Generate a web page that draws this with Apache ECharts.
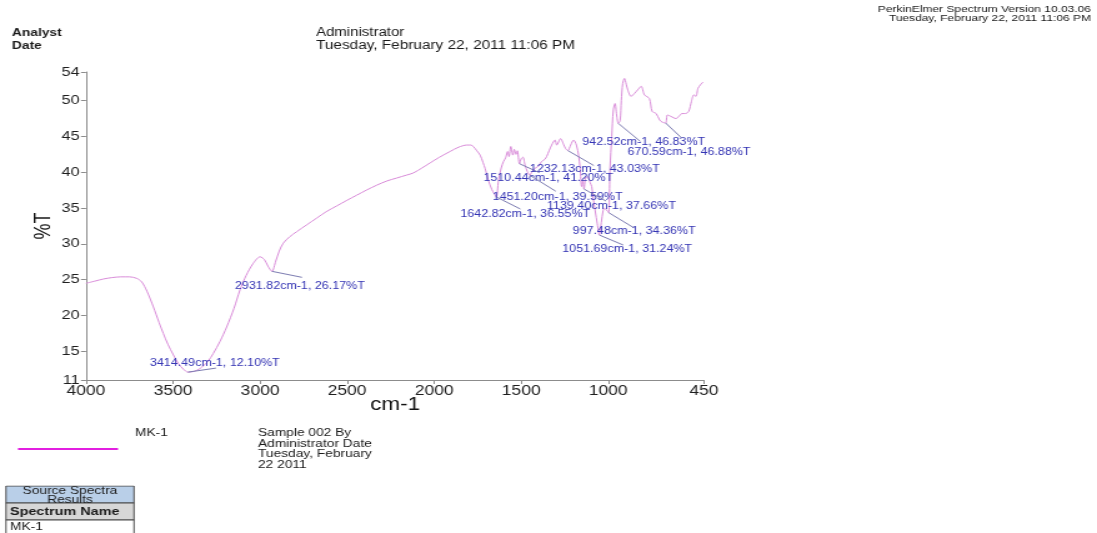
<!DOCTYPE html>
<html>
<head>
<meta charset="utf-8">
<script src="https://cdn.jsdelivr.net/npm/echarts@6/dist/echarts.min.js"></script>
<style>
html,body{margin:0;padding:0;background:#fff;overflow:hidden;}
#chart{width:878px;height:533px;transform:scaleX(1.249431);transform-origin:0 0;}
</style>
</head>
<body>
<div id="chart"></div>
<script>
// ---- data ----
const wavenumber = [
  4000, 3950, 3900, 3850, 3800, 3750, 3710, 3680, 3650, 3613,
  3580, 3556, 3530, 3498, 3470, 3440, 3414.49, 3380, 3345, 3300,
  3269, 3230, 3192, 3150, 3115, 3080, 3039, 3000, 2975, 2955,
  2931.82, 2910, 2890, 2867, 2830, 2790, 2730, 2675, 2620, 2560,
  2500, 2445, 2390, 2330, 2270, 2215, 2160, 2120, 2070, 2024,
  1970, 1909, 1860, 1813, 1790, 1775, 1755, 1736, 1720, 1707,
  1689, 1669, 1655, 1642.82, 1631, 1615, 1602, 1590, 1578, 1570,
  1560, 1548, 1540, 1530, 1522, 1510.44, 1500, 1490, 1478, 1465,
  1451.20, 1440, 1425, 1404, 1383, 1365, 1354, 1340, 1325, 1306,
  1296, 1274, 1255, 1245, 1232.13, 1216, 1199, 1183, 1170, 1162,
  1153, 1146, 1139.40, 1130, 1118, 1105, 1095, 1086, 1075, 1063,
  1051.69, 1040, 1030, 1022, 1013, 1005, 997.48, 990, 980, 971,
  961, 952, 942.52, 932, 925, 917, 907, 897, 888, 869,
  850, 831, 811, 792, 764, 748, 725, 705, 690, 670.59,
  660, 640, 611, 595, 576, 557, 538, 522, 509, 496,
  485, 471, 455
];
const transmittance = [
  24.5, 24.8, 25.1, 25.3, 25.4, 25.4, 25.2, 24.7, 23.4, 21.2,
  19.0, 17.5, 16.0, 14.5, 13.3, 12.5, 12.10, 12.2, 12.6, 13.6,
  14.7, 16.4, 18.4, 21.0, 23.6, 25.6, 27.3, 28.2, 27.8, 26.9,
  26.17, 27.6, 29.0, 30.1, 31.0, 31.7, 32.7, 33.6, 34.5, 35.3,
  36.1, 36.8, 37.5, 38.2, 38.8, 39.2, 39.6, 39.9, 40.6, 41.3,
  42.1, 42.9, 43.5, 43.8, 43.8, 43.6, 43.0, 42.4, 41.4, 40.5,
  38.9, 37.6, 37.0, 36.55, 38.8, 40.6, 41.5, 42.0, 42.9, 42.2,
  43.6, 42.4, 43.2, 42.5, 43.0, 41.20, 41.9, 42.1, 41.0, 40.1,
  39.59, 40.0, 40.5, 40.8, 41.5, 41.8, 42.2, 43.0, 43.8, 44.5,
  43.8, 44.7, 43.8, 43.3, 43.03, 43.8, 44.5, 43.8, 42.3, 40.6,
  38.0, 38.9, 37.66, 39.2, 39.4, 38.6, 38.0, 36.3, 34.6, 32.8,
  31.24, 33.0, 34.6, 35.0, 34.8, 34.6, 34.36, 40.5, 45.0, 48.7,
  49.6, 48.0, 46.83, 47.2, 50.0, 52.4, 53.1, 52.3, 51.5, 50.6,
  51.0, 51.5, 52.0, 50.8, 50.3, 48.5, 48.2, 47.3, 47.0, 46.88,
  48.0, 47.8, 47.5, 47.8, 48.2, 48.2, 48.5, 49.9, 50.8, 50.6,
  51.7, 52.2, 52.6
];
const peakWavenumber = [3414.49, 2931.82, 1642.82, 1510.44, 1451.20, 1232.13, 1139.40, 1051.69, 997.48, 942.52, 670.59];
const peakTransmittance = [12.10, 26.17, 36.55, 41.20, 39.59, 43.03, 37.66, 31.24, 34.36, 46.83, 46.88];
const xTickValues = [4000, 3500, 3000, 2500, 2000, 1500, 1000, 450];
const yTickValues = [11, 15, 20, 25, 30, 35, 40, 45, 50, 54];
const seriesName = 'MK-1';

// ---- layout (reference pixels) ----
const S = 1097 / 878;            // page is stretched horizontally like the reference
const X = v => v / S;
const FONT = '"Liberation Sans", Arial, Helvetica, sans-serif';
// [leader dx, leader dy, text dx, text dy] relative to the peak point
const labelLayout = [
  [28, -4, -38, -9],
  [30, 6, -37, 15],
  [24, 12, -36, 17],
  [20, 9, -36, 15],
  [26, 16, -37, 22],
  [26, 15, -38, 19],
  [22, 12, -37, 17],
  [24, 10, -37, 14],
  [25, 15, -36, 19],
  [22, 18, -36, 19],
  [16, 15, -38, 29]
];

function peakLabel(i) {
  return peakWavenumber[i].toFixed(2) + 'cm-1, ' + peakTransmittance[i].toFixed(2) + '%T';
}

function renderPeak(params, api) {
  const i = params.dataIndex;
  const p = api.coord([api.value(0), api.value(1)]);
  const o = labelLayout[i];
  return {
    type: 'group',
    children: [
      { type: 'line', shape: { x1: p[0], y1: p[1], x2: p[0] + X(o[0]), y2: p[1] + o[1] },
        style: { stroke: '#7d7db2', lineWidth: 1 } },
      { type: 'text', style: { text: peakLabel(i), x: p[0] + X(o[2]), y: p[1] + o[3],
        fill: '#3434b4', font: '10px ' + FONT, textAlign: 'left', textVerticalAlign: 'middle' } }
    ]
  };
}

function txt(x, y, text, size, opts) {
  opts = opts || {};
  return {
    type: 'text', x: X(x), y: y, z: 10,
    style: Object.assign({
      text: text, fill: '#1a1a1a',
      font: (opts.bold ? 'bold ' : '') + size + 'px ' + FONT,
      textAlign: opts.align || 'left', textVerticalAlign: 'middle'
    }, opts.style || {})
  };
}

const graphicElements = [
  txt(12, 33, 'Analyst', 11, { bold: true }),
  txt(12, 46, 'Date', 11, { bold: true }),
  txt(316, 33, 'Administrator', 12),
  txt(316, 46, 'Tuesday, February 22, 2011 11:06 PM', 12.3),
  txt(1091, 9, 'PerkinElmer Spectrum Version 10.03.06', 9.6, { align: 'right' }),
  txt(1091, 18, 'Tuesday, February 22, 2011 11:06 PM', 9.6, { align: 'right' }),
  // legend
  { type: 'line', z: 10, shape: { x1: X(18), y1: 449, x2: X(118), y2: 449 },
    style: { stroke: '#e21fe0', lineWidth: 2 } },
  txt(135, 433, seriesName, 11),
  txt(258, 433, 'Sample 002 By', 11),
  txt(258, 443.5, 'Administrator Date', 11),
  txt(258, 454, 'Tuesday, February', 11),
  txt(258, 464.5, '22 2011', 11),
  // table
  { type: 'rect', z: 9, shape: { x: X(6), y: 486, width: X(134) - X(6), height: 17 },
    style: { fill: '#b9cfe8', stroke: '#4a4a4a', lineWidth: 1 } },
  txt(70, 490.5, 'Source Spectra', 11, { align: 'center', style: { fill: '#222' } }),
  txt(70, 499.5, 'Results', 11, { align: 'center', style: { fill: '#222' } }),
  { type: 'rect', z: 11, shape: { x: X(5), y: 476, width: X(136) - X(5), height: 9.5 },
    style: { fill: '#ffffff', stroke: null } },
  { type: 'rect', z: 9, shape: { x: X(6), y: 503, width: X(134) - X(6), height: 17 },
    style: { fill: '#d7d7d7', stroke: '#4a4a4a', lineWidth: 1 } },
  txt(10, 512, 'Spectrum Name', 11.5, { bold: true }),
  { type: 'rect', z: 9, shape: { x: X(6), y: 520, width: X(134) - X(6), height: 20 },
    style: { fill: '#ffffff', stroke: '#4a4a4a', lineWidth: 1 } },
  txt(10, 527, seriesName, 11)
];

const axisColor = '#8c8c8c';
const chart = echarts.init(document.getElementById('chart'), null, { renderer: 'canvas' });
chart.setOption({
  animation: false,
  backgroundColor: '#ffffff',
  grid: { left: X(86), right: 878 - X(704), top: 72, bottom: 533 - 380, containLabel: false, outerBoundsMode: 'none' },
  xAxis: {
    type: 'value', min: 450, max: 4000, inverse: true,
    name: 'cm-1', nameLocation: 'middle', nameGap: 16, nameMoveOverlap: false,
    nameTextStyle: { fontSize: 18, color: '#111', fontFamily: FONT },
    axisLine: { show: true, onZero: false, lineStyle: { color: axisColor, width: 1 } },
    axisTick: { show: true, inside: false, length: 4, customValues: xTickValues, lineStyle: { color: axisColor } },
    axisLabel: { show: true, customValues: xTickValues, fontSize: 14, color: '#1e1e1e', margin: 4, fontFamily: FONT,
      formatter: v => String(v) },
    splitLine: { show: false }
  },
  yAxis: {
    type: 'value', min: 11, max: 54,
    name: '%T', nameLocation: 'middle', nameGap: 25, nameMoveOverlap: false,
    nameTextStyle: { fontSize: 18, color: '#111', fontFamily: FONT },
    axisLine: { show: true, onZero: false, lineStyle: { color: axisColor, width: 1 } },
    axisTick: { show: true, inside: false, length: 4, customValues: yTickValues, lineStyle: { color: axisColor } },
    axisLabel: { show: true, customValues: yTickValues, fontSize: 13, color: '#1e1e1e', margin: 5, fontFamily: FONT,
      formatter: v => String(v) },
    splitLine: { show: false }
  },
  series: [
    {
      name: seriesName, type: 'line', z: 2,
      data: wavenumber.map((w, i) => [w, transmittance[i]]),
      showSymbol: false, symbol: 'none', smooth: 0.3,
      lineStyle: { color: '#d98cd9', width: 1 },
      silent: true
    },
    {
      name: 'peaks', type: 'custom', z: 3, clip: false, silent: true,
      data: peakWavenumber.map((w, i) => [w, peakTransmittance[i]]),
      renderItem: renderPeak
    }
  ],
  graphic: { elements: graphicElements }
});
</script>
</body>
</html>
